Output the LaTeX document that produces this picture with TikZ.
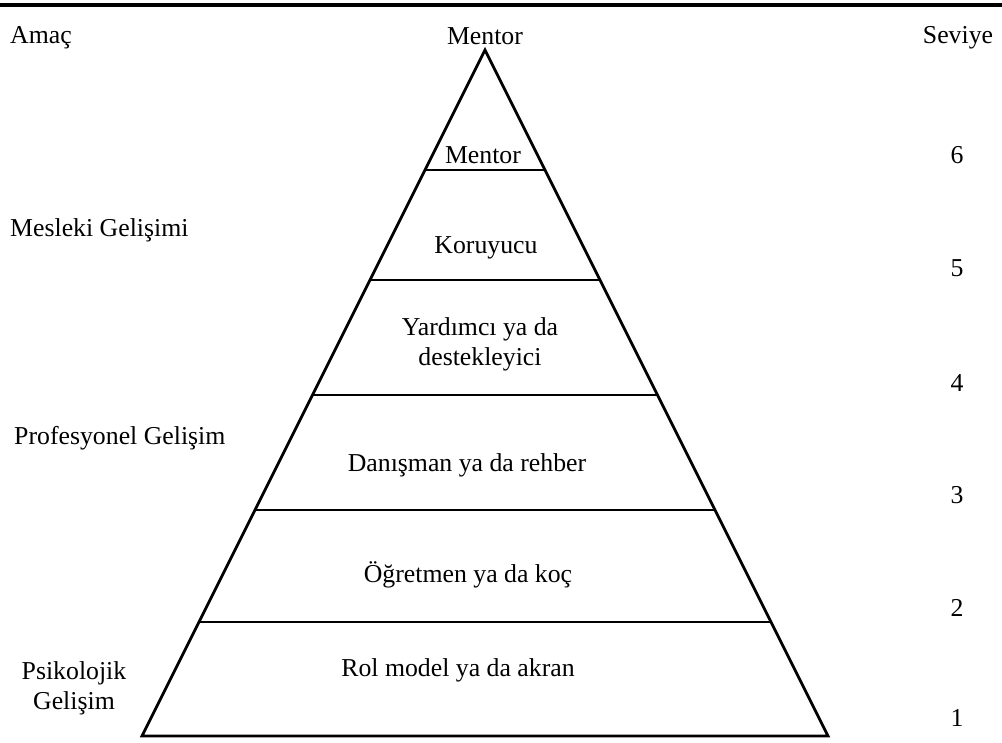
\documentclass[tikz,border=0pt]{standalone}
\usepackage{fontspec}
\setmainfont{Liberation Serif}
\usetikzlibrary{positioning,calc}
\tikzset{
  lbl/.style={inner sep=0pt, font=\fontsize{22}{25.6}\selectfont},
  sidelbl/.style={lbl, anchor=west},
  levellbl/.style={lbl, anchor=center},
  pyr/.style={line width=2.4pt, line join=miter},
  rulebar/.style={line width=3pt}
}

\begin{document}
\begin{tikzpicture}[x=0.03cm,y=-0.03cm]
  \useasboundingbox (0,0) rectangle (1002,742);
  % top rule
  \coordinate (ruleL) at (0,5);
  \coordinate (ruleR) at (1002,5);
  \draw[rulebar] (ruleL) -- (ruleR);

  % pyramid outline
  \coordinate (apex) at (485,50);
  \coordinate (baseL) at (142,736);
  \coordinate (baseR) at (828,736);
  \draw[pyr] (apex) -- (baseR) -- (baseL) -- cycle;
  \foreach \y/\nm in {170/a,280/b,395/c,510/d,622/e} {
    \coordinate (L\nm) at ($(apex)!{(\y-50)/686}!(baseL)$);
    \coordinate (R\nm) at ($(apex)!{(\y-50)/686}!(baseR)$);
    \draw[pyr] (L\nm) -- (R\nm);
  }

  % headings
  \node[sidelbl] (amac) at (10,38) {Amaç};
  \node[levellbl] (top) at (485,36) {Mentor};
  \node[levellbl] (seviye) at (958,38) {Seviye};

  % layer texts
  \node[levellbl] (mentor) at (483,155) {Mentor};
  \node[levellbl] (koruyucu) at (486,248) {Koruyucu};
  \node[levellbl, align=center] (yardimci) at (480,344) {Yardımcı ya da\\destekleyici};
  \node[levellbl] (danisman) at (467,465) {Danışman ya da rehber};
  \node[levellbl] (ogretmen) at (468,575) {Öğretmen ya da koç};
  \node[levellbl] (rolmodel) at (458,670) {Rol model ya da akran};

  % purposes
  \node[sidelbl] (mesleki) at (10,230) {Mesleki Gelişimi};
  \node[sidelbl] (profesyonel) at (14,438) {Profesyonel Gelişim};
  \node[levellbl, align=center] (psikolojik) at (74,688) {Psikolojik\\Gelişim};

  % level numbers
  \foreach \y/\n in {155/6,268/5,383/4,495/3,608/2,718/1}
    \node[levellbl] (lv\n) at (957,\y) {\n};
\end{tikzpicture}
\end{document}
